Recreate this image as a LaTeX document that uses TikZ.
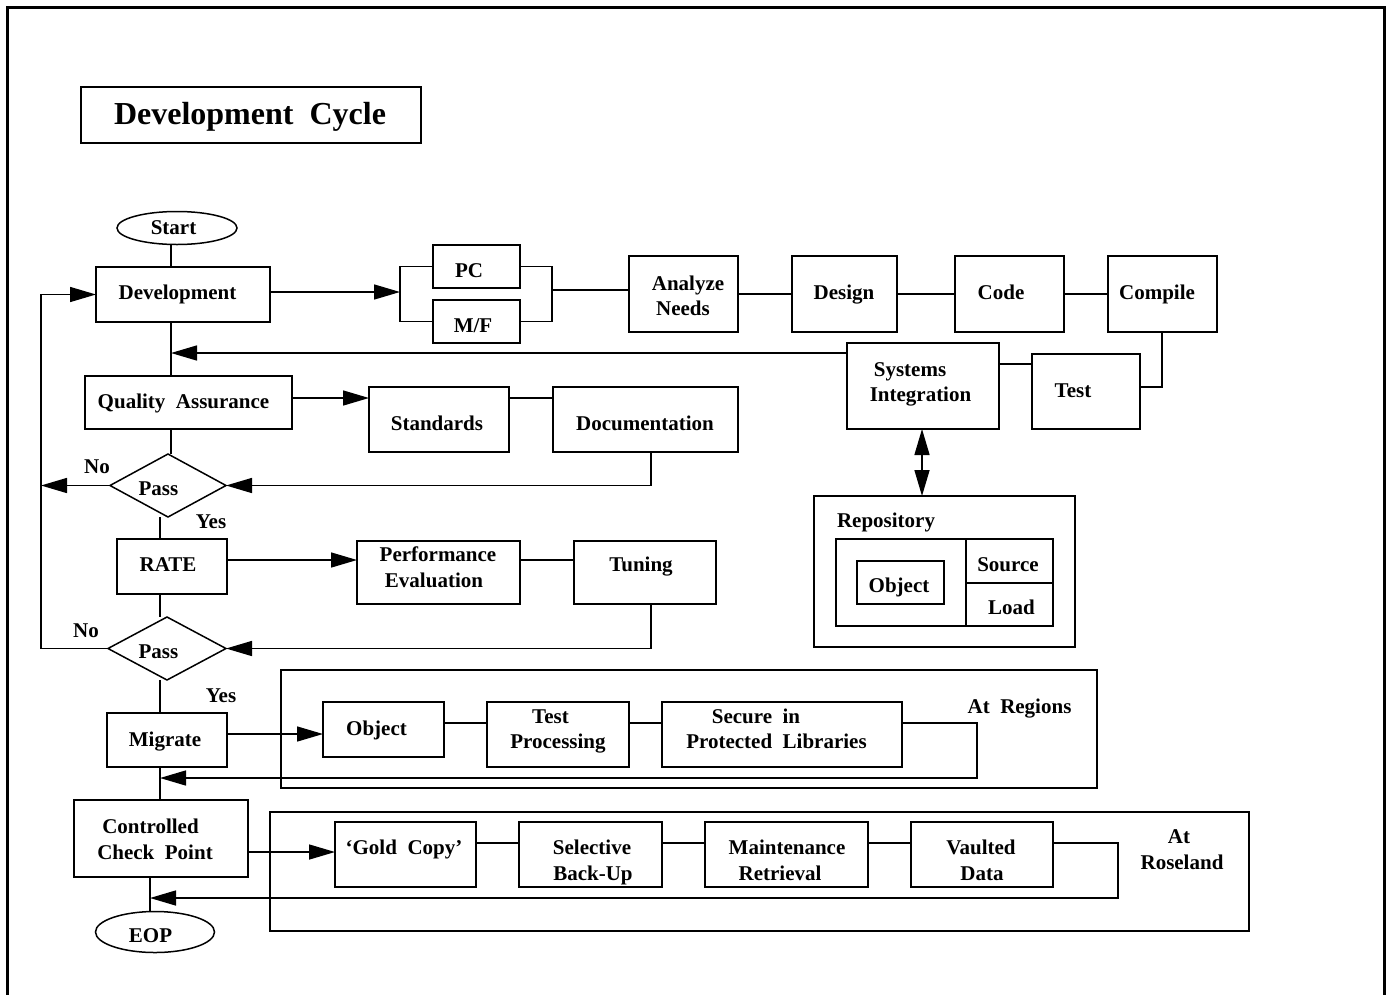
\documentclass[tikz,border=0pt]{standalone}
\usepackage{fontspec}
\setmainfont{Liberation Serif}
\usetikzlibrary{shapes.geometric,arrows.meta}

\tikzset{
  bx/.style={draw, line width=2.2bp, anchor=north west, inner sep=0pt, outer sep=0pt},
  frm/.style={draw, line width=2.2bp, anchor=north west, inner sep=0pt, outer sep=0pt},
  dmd/.style={draw, diamond, line width=1.5bp, inner sep=0pt, outer sep=0pt},
  ovl/.style={draw, ellipse, line width=1.5bp, inner sep=0pt, outer sep=0pt},
  ln/.style={line width=1.5bp},
  arr/.style={line width=1.5bp, -{Triangle[length=26bp,width=15bp]}},
  darr/.style={line width=1.5bp, {Triangle[length=26bp,width=15bp]}-{Triangle[length=26bp,width=15bp]}},
  lbl/.style={font=\bfseries\fontsize{21bp}{25bp}\selectfont, inner sep=0pt, anchor=base},
  ttl/.style={font=\bfseries\fontsize{32bp}{38bp}\selectfont, inner sep=0pt, anchor=base}
}
% box: name, left, top, width, height
\newcommand\pbox[6][bx]{\node[#1, minimum width=#5bp, minimum height=#6bp] (#2) at (#3,#4) {};}

\begin{document}
\begin{tikzpicture}[x=1bp, y=-1bp]
\useasboundingbox (0,0) rectangle (1389,994);
\fill[white] (0,0) rectangle (1389,994);

% page frame, open at the bottom
\draw[line width=3bp] (7,1000) -- (7,7) -- (1384,7) -- (1384,1000);

% title
\pbox{title}{81}{87}{340}{56}
\node[ttl] (title-t) at (250,124) {Development\ \ Cycle};

% terminals and decisions
\node[ovl, minimum width=120bp, minimum height=33bp] (start) at (177,228) {};
\node[lbl] (start-t) at (173.5,234) {Start};
\node[ovl, minimum width=119bp, minimum height=41bp] (eop) at (155,932) {};
\node[lbl] (eop-t) at (150.5,942) {EOP};
\node[dmd, minimum width=116bp, minimum height=63bp] (pass1) at (168,485.5) {};
\node[lbl] (pass1-t) at (158.5,495) {Pass};
\node[dmd, minimum width=118bp, minimum height=63bp] (pass2) at (167,648.5) {};
\node[lbl] (pass2-t) at (158.5,658) {Pass};

% main column
\pbox{dev}{96}{267}{174}{55}
\node[lbl] (dev-t) at (177.5,299) {Development};
\pbox{qa}{85}{376}{207}{53}
\node[lbl] (qa-t) at (183.5,408) {Quality\ \ Assurance};
\pbox{rate}{117}{539}{110}{55}
\node[lbl] (rate-t) at (168,571) {RATE};
\pbox{mig}{107}{713}{120}{54}
\node[lbl] (mig-t) at (165,746) {Migrate};
\pbox{ccp}{74}{800}{174}{77}
\node[lbl] (ccp-t1) at (150.5,833) {Controlled};
\node[lbl] (ccp-t2) at (155,859) {Check\ \ Point};

% development row
\pbox{pc}{433}{245}{87}{43}
\node[lbl] (pc-t) at (469,277) {PC};
\pbox{mf}{433}{300}{87}{43}
\node[lbl] (mf-t) at (473,332) {M/F};
\pbox{an}{629}{256}{109}{76}
\node[lbl] (an-t1) at (688,290) {Analyze};
\node[lbl] (an-t2) at (683,315) {Needs};
\pbox{de}{792}{256}{105}{76}
\node[lbl] (de-t) at (844,299) {Design};
\pbox{co}{955}{256}{109}{76}
\node[lbl] (co-t) at (1001,299) {Code};
\pbox{cm}{1108}{256}{109}{76}
\node[lbl] (cm-t) at (1157,299) {Compile};
\pbox{si}{847}{343}{152}{86}
\node[lbl] (si-t1) at (910,376) {Systems};
\node[lbl] (si-t2) at (920.5,401) {Integration};
\pbox{te}{1032}{354}{108}{75}
\node[lbl] (te-t) at (1073,397) {Test};

% repository
\pbox{repo}{814}{496}{261}{151}
\node[lbl] (repo-t) at (886,527) {Repository};
\pbox{inner}{836}{539}{217}{87}
\pbox{src}{966}{539}{87}{44}
\pbox{load}{966}{583}{87}{43}
\pbox{obj}{857}{561}{87}{43}
\node[lbl] (obj-t) at (899,592) {Object};
\node[lbl] (src-t) at (1008,571) {Source};
\node[lbl] (load-t) at (1011.5,614) {Load};

% quality assurance row
\pbox{st}{369}{387}{140}{65}
\node[lbl] (st-t) at (437,430) {Standards};
\pbox{doc}{553}{387}{185}{65}
\node[lbl] (doc-t) at (645,430) {Documentation};

% rate row
\pbox{pe}{357}{541}{163}{63}
\node[lbl] (pe-t1) at (438,561) {Performance};
\node[lbl] (pe-t2) at (434,587) {Evaluation};
\pbox{tu}{574}{541}{142}{63}
\node[lbl] (tu-t) at (641,571) {Tuning};

% decision labels
\node[lbl] (no1) at (97,473) {No};
\node[lbl] (yes1) at (211,528) {Yes};
\node[lbl] (no2) at (86,637) {No};
\node[lbl] (yes2) at (221,702) {Yes};

% regions
\pbox[frm]{reg}{281}{670}{816}{118}
\node[lbl] (reg-t) at (1019.5,713) {At\ \ Regions};
\pbox{obj2}{323}{702}{121}{55}
\node[lbl] (obj2-t) at (376.5,735) {Object};
\pbox{tp}{487}{702}{142}{65}
\node[lbl] (tp-t1) at (550.5,723) {Test};
\node[lbl] (tp-t2) at (558,748) {Processing};
\pbox{sec}{662}{702}{240}{65}
\node[lbl] (sec-t1) at (756,723) {Secure\ \ in};
\node[lbl] (sec-t2) at (776.5,748) {Protected\ \ Libraries};

% roseland
\pbox[frm]{ros}{270}{812}{979}{119}
\node[lbl] (ros-t1) at (1179,843) {At};
\node[lbl] (ros-t2) at (1182,869) {Roseland};
\pbox{gc}{335}{822}{141}{65}
\node[lbl] (gc-t) at (404,854) {‘Gold\ \ Copy’};
\pbox{sb}{519}{822}{143}{65}
\node[lbl] (sb-t1) at (592,854) {Selective};
\node[lbl] (sb-t2) at (593,880) {Back-Up};
\pbox{mr}{705}{822}{163}{65}
\node[lbl] (mr-t1) at (787,854) {Maintenance};
\node[lbl] (mr-t2) at (780,880) {Retrieval};
\pbox{vd}{911}{822}{142}{65}
\node[lbl] (vd-t1) at (981,854) {Vaulted};
\node[lbl] (vd-t2) at (982,880) {Data};

% routing points
\coordinate (xa) at (171,0);
\coordinate (sx) at (160,0);
\coordinate (ex) at (150,0);
\coordinate (dx) at (651,0);
\coordinate (lp) at (41,0);
\coordinate (qaj) at (171,353);
\coordinate (bl) at (400,292);
\coordinate (br) at (552,290);
\coordinate (cmx) at (1162,387);
\coordinate (tsy) at (0,364);
\coordinate (sr) at (922,0);
\coordinate (qy) at (0,398);
\coordinate (ry) at (0,560);
\coordinate (my) at (0,734);
\coordinate (ly) at (0,723);
\coordinate (rc) at (977,778);
\coordinate (rj) at (160,778);
\coordinate (cy) at (0,852);
\coordinate (gy) at (0,843);
\coordinate (vc) at (1118,898);
\coordinate (ej) at (150,898);

% main column connectors
\draw[ln] (start.south -| xa) -- (dev.north -| xa);
\draw[ln] (dev.south -| xa) -- (qa.north -| xa);
\draw[ln] (qa.south -| xa) -- (pass1.north -| xa);
\draw[ln] (pass1.south -| sx) -- (rate.north -| sx);
\draw[ln] (rate.south -| sx) -- (pass2.north -| sx);
\draw[ln] (pass2.south -| sx) -- (mig.north -| sx);
\draw[ln] (mig.south -| sx) -- (ccp.north -| sx);
\draw[ln] (ccp.south -| ex) -- (eop.north -| ex);

% failure loop
\draw[arr] (pass1.west) -- (pass1.west -| lp);
\draw[arr] (pass2.west) -- (pass2.west -| lp) -- (dev.west -| lp) -- (dev.west);

% development row connectors
\draw[arr] (dev.east |- bl) -- (bl);
\draw[ln] (pc.west) -| (bl) |- (mf.west);
\draw[ln] (pc.east) -| (br) |- (mf.east);
\draw[ln] (br) -- (an.west |- br);
\draw[ln] (an) -- (de);
\draw[ln] (de) -- (co);
\draw[ln] (co) -- (cm);
\draw[ln] (cm.south -| cmx) -- (cmx) -- (te.east |- cmx);
\draw[ln] (te.west |- tsy) -- (si.east |- tsy);
\draw[arr] (si.west |- qaj) -- (qaj);
\draw[darr] (si.south -| sr) -- (repo.north -| sr);

% quality assurance row connectors
\draw[arr] (qa.east |- qy) -- (st.west |- qy);
\draw[ln] (st.east |- qy) -- (doc.west |- qy);
\draw[arr] (doc.south -| dx) |- (pass1.east);

% rate row connectors
\draw[arr] (rate.east |- ry) -- (pe.west |- ry);
\draw[ln] (pe.east |- ry) -- (tu.west |- ry);
\draw[arr] (tu.south -| dx) |- (pass2.east);

% regions connectors
\draw[arr] (mig.east |- my) -- (obj2.west |- my);
\draw[ln] (obj2.east |- ly) -- (tp.west |- ly);
\draw[ln] (tp.east |- ly) -- (sec.west |- ly);
\draw[arr] (sec.east |- ly) -| (rc) -- (rj);

% roseland connectors
\draw[arr] (ccp.east |- cy) -- (gc.west |- cy);
\draw[ln] (gc.east |- gy) -- (sb.west |- gy);
\draw[ln] (sb.east |- gy) -- (mr.west |- gy);
\draw[ln] (mr.east |- gy) -- (vd.west |- gy);
\draw[arr] (vd.east |- gy) -| (vc) -- (ej);
\end{tikzpicture}
\end{document}
